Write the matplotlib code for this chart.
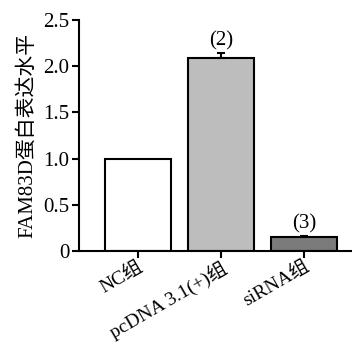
import matplotlib
matplotlib.use("Agg")
import matplotlib.pyplot as plt
from matplotlib.transforms import ScaledTranslation

# data
groups = ["NC组", "pcDNA 3.1(+)组", "siRNA组"]
values = [1.0, 2.09, 0.15]
errors = [0.0, 0.05, 0.01]
marks = ["", "(2)", "(3)"]
colors = ["#ffffff", "#bdbdbd", "#7b7b7b"]

plt.rcParams['font.family'] = ['Liberation Serif', 'Noto Sans CJK SC']
plt.rcParams['font.size'] = 15

fig = plt.figure(figsize=(3.52, 3.42), dpi=100)
ax = fig.add_axes([0.224, 0.266, 0.776, 0.676])

x = list(range(len(groups)))
ax.bar(x, values, width=0.8, color=colors, edgecolor="black", linewidth=1.5)
for i in x:
    if errors[i] > 0:
        ax.errorbar(x[i], values[i], yerr=[[0], [errors[i]]], fmt="none",
                    ecolor="black", elinewidth=1.5, capsize=3, capthick=1.5)
    if marks[i]:
        ax.text(x[i], values[i] + errors[i] + 0.03, marks[i], ha="center", va="bottom", fontsize=15)

ax.set_xlim(-0.71, 2.58)
ax.set_ylim(0, 2.5)
ax.set_yticks([0, 0.5, 1.0, 1.5, 2.0, 2.5])
ax.set_yticklabels(["0", "0.5", "1.0", "1.5", "2.0", "2.5"])
ax.set_xticks(x)
ax.set_xticklabels(groups, rotation=30, ha="right", rotation_mode="anchor", fontsize=14)
shift = ScaledTranslation(6 / 100, 3 / 100, fig.dpi_scale_trans)
for lab in ax.get_xticklabels():
    lab.set_transform(lab.get_transform() + shift)
ax.set_ylabel("FAM83D蛋白表达水平", labelpad=4)

for s in ["top", "right"]:
    ax.spines[s].set_visible(False)
for s in ["left", "bottom"]:
    ax.spines[s].set_linewidth(1.5)
ax.tick_params(width=1.5, length=5, direction="out", pad=2)
ax.tick_params(axis="x", pad=0)

fig.savefig("out.png", dpi=100)
